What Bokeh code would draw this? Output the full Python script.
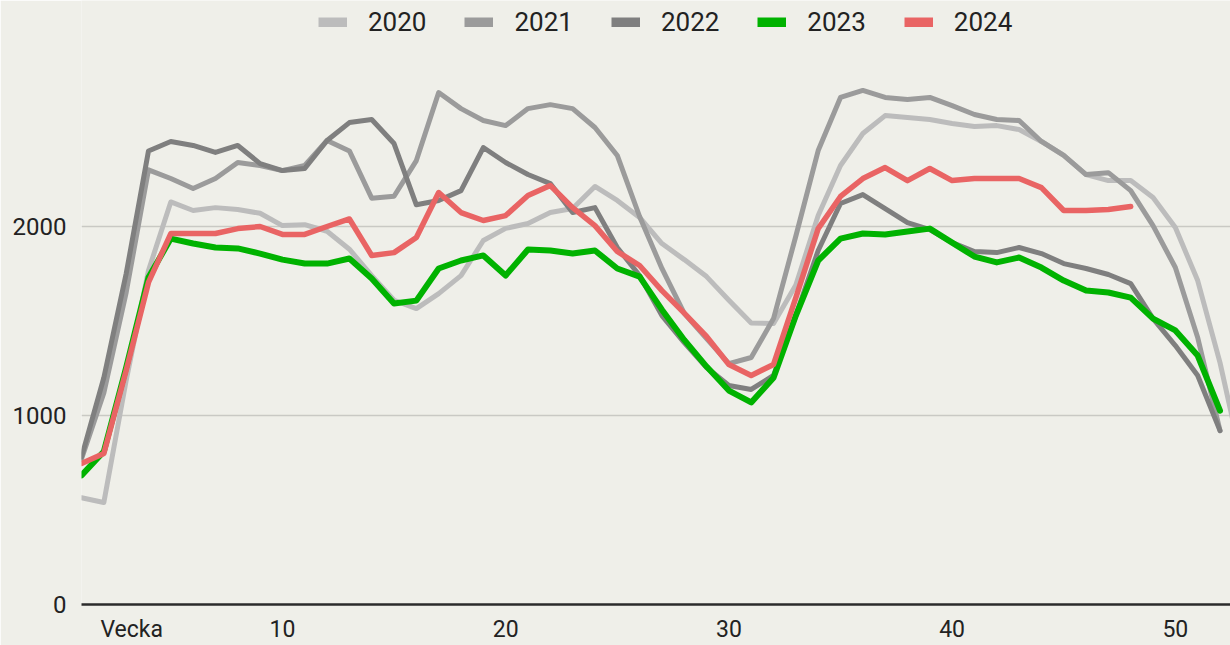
from bokeh.plotting import figure
from bokeh.models import FixedTicker, Legend, LegendItem, Range1d
from bokeh.embed import file_html
from bokeh.resources import INLINE

weeks_2020 = list(range(1, 54))
weeks = list(range(1, 53))

y2020 = [565, 540, 1185, 1767, 2130, 2085, 2100, 2090, 2070, 2005,
         2010, 1975, 1880, 1740, 1610, 1566, 1645, 1740, 1926, 1990,
         2016, 2074, 2095, 2212, 2138, 2048, 1910, 1825, 1735, 1610,
         1490, 1487, 1690, 2058, 2323, 2492, 2587, 2577, 2566, 2545,
         2529, 2534, 2513, 2450, 2376, 2275, 2243, 2243, 2153, 1995,
         1714, 1280, 750]
y2021 = [770, 1120, 1650, 2300, 2254, 2201, 2254, 2339, 2323, 2296,
         2323, 2455, 2400, 2150, 2160, 2349, 2709, 2624, 2561, 2534,
         2624, 2645, 2624, 2524, 2376, 2053, 1778, 1540, 1407, 1275,
         1307, 1513, 1950, 2402, 2683, 2720, 2683, 2672, 2683, 2640,
         2593, 2566, 2561, 2450, 2376, 2275, 2285, 2190, 2005, 1783,
         1413, 920]
y2022 = [780, 1200, 1750, 2400, 2450, 2429, 2392, 2429, 2333, 2296,
         2307, 2455, 2550, 2566, 2439, 2115, 2138, 2190, 2418, 2339,
         2275, 2227, 2074, 2100, 1889, 1741, 1529, 1386, 1254, 1159,
         1138, 1212, 1529, 1873, 2122, 2169, 2095, 2021, 1984, 1915,
         1868, 1862, 1889, 1857, 1804, 1778, 1746, 1698, 1513, 1370,
         1212, 920]
y2023 = [683, 810, 1254, 1730, 1936, 1910, 1889, 1884, 1857, 1825,
         1804, 1804, 1831, 1725, 1593, 1608, 1778, 1820, 1847, 1741,
         1878, 1873, 1857, 1873, 1778, 1735, 1560, 1400, 1259, 1132,
         1069, 1200, 1529, 1820, 1936, 1963, 1958, 1974, 1989, 1915,
         1841, 1810, 1836, 1783, 1714, 1661, 1651, 1624, 1513, 1450,
         1317, 1026]
y2024 = [746, 799, 1238, 1704, 1963, 1963, 1963, 1989, 2000, 1958,
         1958, 2000, 2040, 1847, 1862, 1942, 2180, 2074, 2032, 2058,
         2164, 2217, 2100, 2005, 1868, 1794, 1661, 1542, 1418, 1270,
         1212, 1270, 1624, 1989, 2159, 2254, 2312, 2243, 2307, 2243,
         2254, 2254, 2254, 2206, 2085, 2085, 2090, 2106]

series_names = ["2020", "2021", "2022", "2023", "2024"]
x_ticks = [3.25, 10, 20, 30, 40, 50]
x_tick_labels = ["Vecka", "10", "20", "30", "40", "50"]
y_ticks = [0, 1000, 2000]

BG = "#efefe9"
FONT = "Roboto"

p = figure(width=1230, height=645, output_backend="svg", toolbar_location=None,
           x_range=Range1d(1, 52.47), y_range=Range1d(0, 3196),
           min_border_left=81, min_border_right=0, min_border_top=0,
           min_border_bottom=41, background_fill_color=BG,
           border_fill_color=BG, outline_line_color=None)

series = [
    (weeks_2020, y2020, "#bcbcbc", 5),
    (weeks, y2021, "#9b9b9b", 5),
    (weeks, y2022, "#7f7f7f", 5),
    (weeks, y2023, "#00b200", 6),
    (weeks, y2024, "#e96464", 5.5),
]
for xs, ys, col, lw in series:
    p.line(xs, ys, line_color=col, line_width=lw, line_join="round", line_cap="round")

# legend swatches: renderers kept outside the visible x range
items = []
for name, (_, _, col, _) in zip(series_names, series):
    r = p.line(x=[-20, -19], y=[0, 0], line_color=col, line_width=10)
    items.append(LegendItem(label=name, renderers=[r]))

legend = Legend(items=items, orientation="horizontal", location=(237, 567),
                background_fill_alpha=0, border_line_color=None,
                padding=0, margin=0, spacing=38, label_standoff=21,
                glyph_width=29, glyph_height=10,
                label_text_font=FONT, label_text_font_size="26px",
                label_text_color="#222222")
p.add_layout(legend, "center")

p.xaxis.ticker = FixedTicker(ticks=x_ticks)
p.xaxis.major_label_overrides = {k: v for k, v in zip(x_ticks, x_tick_labels)}
p.xaxis.axis_line_color = "#2b2b2b"
p.xaxis.axis_line_width = 2.5
p.xaxis.major_tick_line_color = None
p.xaxis.minor_tick_line_color = None
p.xaxis.major_tick_out = 0
p.xaxis.major_tick_in = 0
p.xaxis.minor_tick_out = 0
p.xaxis.major_label_standoff = 11
p.xaxis.major_label_text_font = FONT
p.xaxis.major_label_text_font_size = "23px"
p.xaxis.major_label_text_color = "#222222"

p.yaxis.ticker = FixedTicker(ticks=y_ticks)
p.yaxis.axis_line_color = None
p.yaxis.major_tick_line_color = None
p.yaxis.minor_tick_line_color = None
p.yaxis.major_tick_out = 0
p.yaxis.major_tick_in = 0
p.yaxis.minor_tick_out = 0
p.yaxis.major_label_standoff = 15
p.yaxis.major_label_text_font = FONT
p.yaxis.major_label_text_font_size = "24px"
p.yaxis.major_label_text_color = "#222222"

p.xgrid.grid_line_color = None
p.ygrid.ticker = FixedTicker(ticks=[1000, 2000])
p.ygrid.grid_line_color = "#c9c9c4"
p.ygrid.grid_line_width = 1.5

open("out.html", "w").write(file_html(p, INLINE))
